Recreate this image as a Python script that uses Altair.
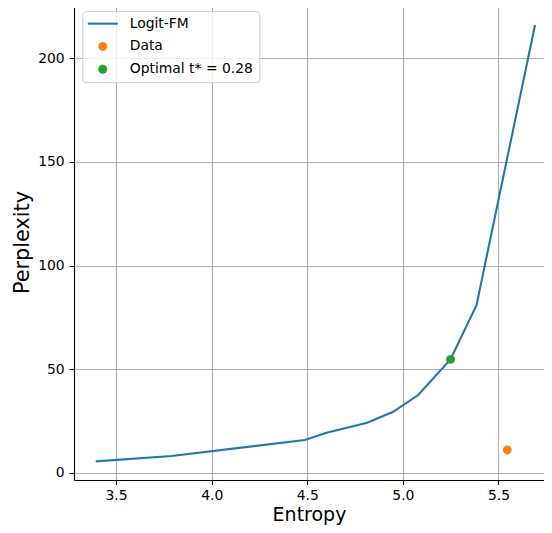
import altair as alt
import pandas as pd

# Logit-FM curve (entropy vs perplexity)
entropy = [3.394, 3.790, 4.487, 4.601, 4.813, 4.949, 5.080, 5.249, 5.385, 5.691]
perplexity = [5.5, 8.1, 15.8, 19.3, 24.1, 29.4, 37.5, 54.7, 80.9, 216.1]

# Data point
data_entropy = [5.546]
data_perplexity = [11.0]

# Optimal point
opt_entropy = [5.249]
opt_perplexity = [54.7]

series_names = ["Logit-FM", "Data", "Optimal t* = 0.28"]
series_colors = ["#1f77b4", "#ff7f0e", "#2ca02c"]

x_ticks = [3.5, 4.0, 4.5, 5.0, 5.5]
y_ticks = [0, 50, 100, 150, 200]

W, H = 470, 476
FONT = "DejaVu Sans"

line_df = pd.DataFrame({"entropy": entropy, "ppl": perplexity, "series": series_names[0]})
data_df = pd.DataFrame({"entropy": data_entropy, "ppl": data_perplexity, "series": series_names[1]})
opt_df = pd.DataFrame({"entropy": opt_entropy, "ppl": opt_perplexity, "series": series_names[2]})

xenc = alt.X("entropy:Q", scale=alt.Scale(domain=[3.28, 5.738], nice=False, zero=False),
             axis=alt.Axis(values=x_ticks, format=".1f", title="Entropy",
                           titleBaseline="alphabetic", titleY=40, titleFontSize=19,
                           labelPadding=3.9, tickSize=4.5))
yenc = alt.Y("ppl:Q", scale=alt.Scale(domain=[-3.5, 226.2], nice=False, zero=False),
             axis=alt.Axis(values=y_ticks, format="d", title="Perplexity"))

is_line = "datum.value === 'Logit-FM'"
legend = alt.Legend(
    title=None, orient="none", legendX=8.3, legendY=7.2,
    symbolSize=80, symbolOffset=8, labelOffset=20, rowPadding=7.8, padding=5.5,
    strokeColor="#cccccc", fillColor="rgba(255,255,255,0.8)", cornerRadius=3,
    labelFontSize=13.9, labelFont=FONT, labelColor="black",
    symbolType={"expr": f"{is_line} ? 'M-3.35,0H3.35' : 'circle'"},
    symbolFillColor={"expr": f"{is_line} ? 'transparent' : scale('color', datum.value)"},
    symbolStrokeColor={"expr": "scale('color', datum.value)"},
    symbolStrokeWidth={"expr": f"{is_line} ? 2.1 : 0"},
    symbolOpacity=1,
)
color = alt.Color("series:N", scale=alt.Scale(domain=series_names, range=series_colors), legend=legend)

line = alt.Chart(line_df).mark_line(strokeWidth=2.1).encode(x=xenc, y=yenc, color=color)
pts_data = alt.Chart(data_df).mark_point(filled=True, size=80, opacity=1).encode(x=xenc, y=yenc, color=color)
pts_opt = alt.Chart(opt_df).mark_point(filled=True, size=80, opacity=1).encode(x=xenc, y=yenc, color=color)
top_spine = alt.Chart(line_df).mark_rule(color="black", strokeWidth=1.1).encode(
    x=alt.value(0), x2=alt.value(W), y=alt.value(0))

chart = alt.layer(line, pts_data, pts_opt, top_spine).properties(
    width=W, height=H,
    autosize=alt.AutoSizeParams(type="none"),
    padding={"left": 66, "top": -4, "right": 0, "bottom": 45},
    background="white",
).configure_view(stroke=None).configure_axis(
    domainColor="black", domainWidth=1.1,
    tickColor="black", tickWidth=1.1, tickSize=4.9,
    labelPadding=4.9, labelFontSize=13.9, labelFont=FONT, labelColor="black",
    titleFont=FONT, titleFontSize=20.8, titleFontWeight="normal", titleColor="black",
    gridColor="#b0b0b0", gridWidth=1.1, gridOpacity=1,
).configure_axisY(titlePadding=5)

chart.save("out.html", embed_options={"renderer": "svg", "actions": False})
